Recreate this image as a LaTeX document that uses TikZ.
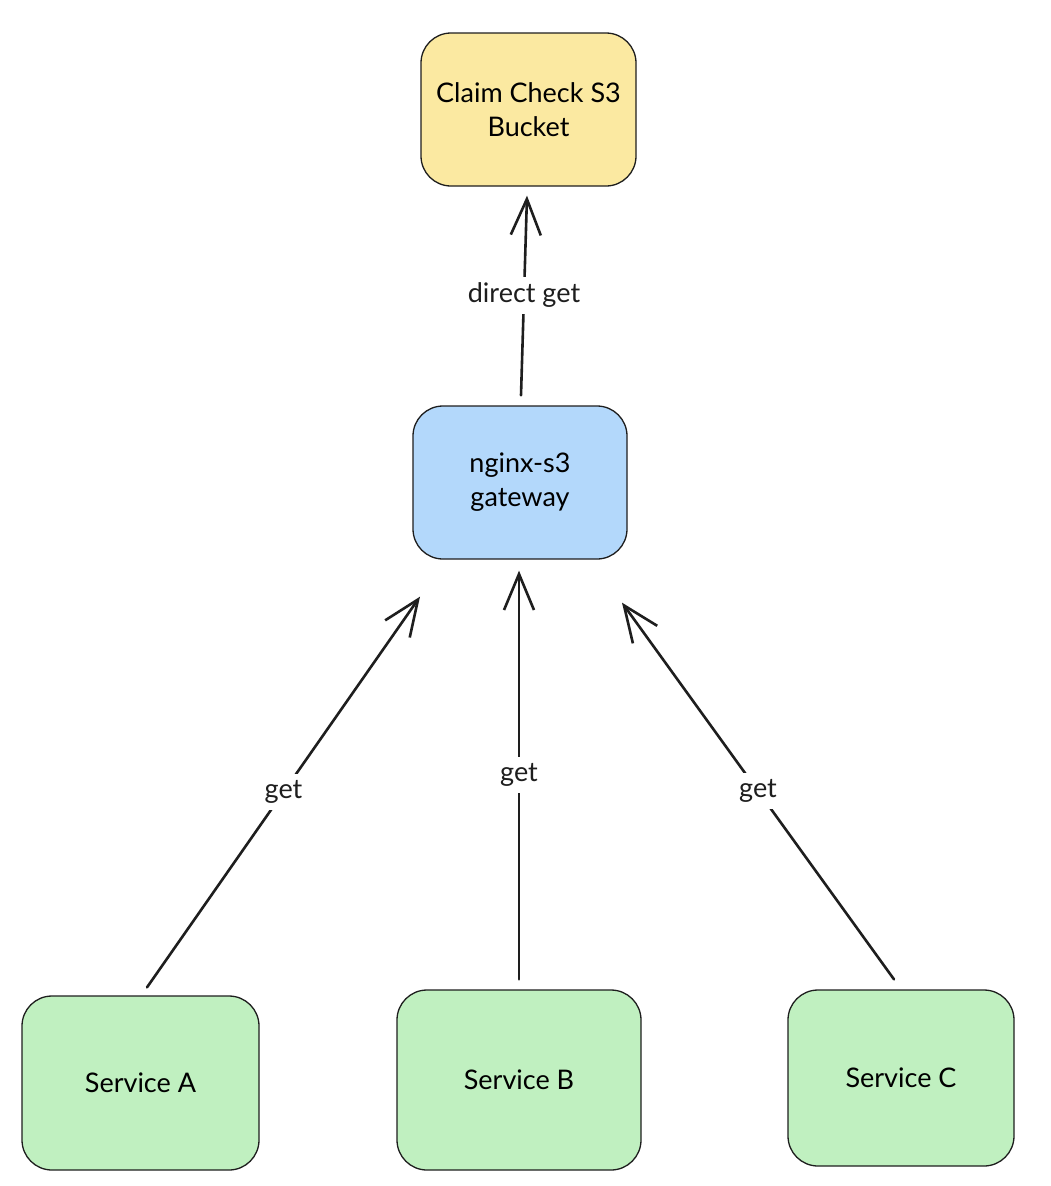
\documentclass[tikz,border=0pt]{standalone}
\usepackage{fontspec}
\setmainfont{Lato}
\usetikzlibrary{arrows.meta}
\definecolor{ink}{HTML}{1E1E1E}
\definecolor{yellowbox}{HTML}{FBE9A1}
\definecolor{bluebox}{HTML}{B3D8FB}
\definecolor{greenbox}{HTML}{C0F0C0}
\begin{document}
\begin{tikzpicture}[x=1pt,y=-1pt,
  box/.style={draw=ink, line width=1.3pt, rounded corners=30pt, align=center,
    font=\fontsize{27}{34}\selectfont, inner sep=0pt},
  conn/.style={draw=ink, line width=2.6pt, line cap=round,
    -{Straight Barb[length=36pt,width=30pt,line width=2.6pt]}},
  lab/.style={fill=white, text=ink, font=\fontsize{27}{30}\selectfont, inner sep=6pt}]
\path[use as bounding box] (0,0) rectangle (1050,1186);
\node[box, fill=yellowbox, minimum width=215pt, minimum height=153pt] (s3) at (528.5,109.5) {Claim Check S3\\Bucket};
\node[box, fill=bluebox, minimum width=214pt, minimum height=153pt] (gw) at (520,482.5) {nginx-s3\\gateway};
\node[box, fill=greenbox, minimum width=237pt, minimum height=174pt] (sa) at (140.5,1083) {Service A};
\node[box, fill=greenbox, minimum width=244pt, minimum height=180pt] (sb) at (519,1080) {Service B};
\node[box, fill=greenbox, minimum width=226pt, minimum height=176pt] (sc) at (901,1078) {Service C};
\draw[conn] ([shift={(1,-10)}]gw.north) -- node[lab] {direct get} ([shift={(-1.5,9)}]s3.south);
\draw[conn] ([shift={(6.5,-8)}]sa.north) -- node[lab] {get} ([shift={(-100,37)}]gw.south);
\draw[conn] ([shift={(0,-10)}]sb.north) -- node[lab] {get} ([shift={(-1,11)}]gw.south);
\draw[conn] ([shift={(-7,-10)}]sc.north) -- node[lab] {get} ([shift={(102,43)}]gw.south);
\end{tikzpicture}
\end{document}
